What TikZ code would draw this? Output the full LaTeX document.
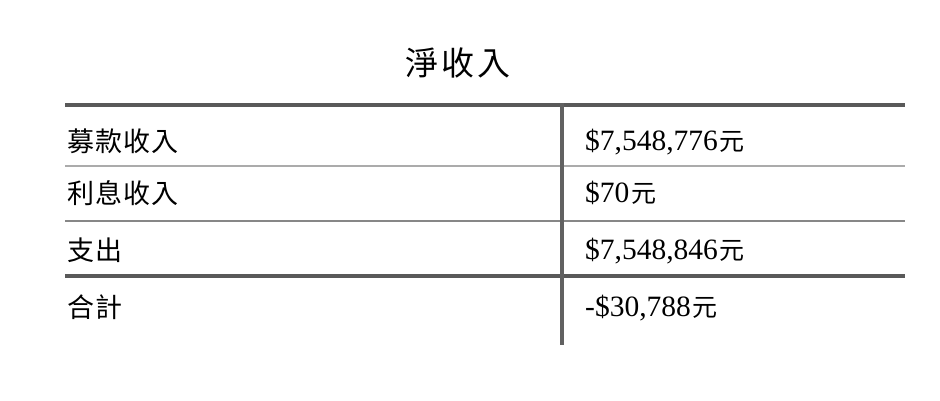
\documentclass[tikz,border=0pt]{standalone}
\usepackage{fontspec}
\setmainfont{Liberation Serif}
\newfontfamily\cjk{Noto Sans CJK TC}
\begin{document}
\begin{tikzpicture}[x=1pt,y=-1pt,
  lbl/.style={anchor=base west,inner sep=0pt,font=\cjk\fontsize{27}{32}\selectfont},
  val/.style={anchor=base west,inner sep=0pt,font=\fontsize{29.5}{34}\selectfont},
  thickrule/.style={line width=4pt,color=black!65},
  thinrule/.style={line width=2pt,color=black!33},
  midrule/.style={line width=2pt,color=black!47}]
\useasboundingbox (0,0) rectangle (940,400);
\node[anchor=base,inner sep=0pt,font=\cjk\fontsize{33}{38}\selectfont] (title) at (458,75) {淨\kern3pt 收\kern3pt 入};
\coordinate (tl) at (65,104.5);
\coordinate (tr) at (905,104.5);
\coordinate (r1l) at (65,165.5);
\coordinate (r1r) at (905,165.5);
\coordinate (r2l) at (65,220.5);
\coordinate (r2r) at (905,220.5);
\coordinate (r3l) at (65,276);
\coordinate (r3r) at (905,276);
\coordinate (vt) at (562,103);
\coordinate (vb) at (562,345);
\draw[thinrule] (r1l) -- (r1r);
\draw[midrule] (r2l) -- (r2r);
\draw[thickrule] (tl) -- (tr);
\draw[thickrule] (r3l) -- (r3r);
\draw[line width=3.5pt,color=black!62] (vt) -- (vb);
\node[lbl] (a1) at (67,151) {募\kern1pt 款\kern1pt 收\kern1pt 入};
\node[lbl] (a2) at (67,203) {利\kern1pt 息\kern1pt 收\kern1pt 入};
\node[lbl] (a3) at (67,260) {支\kern1pt 出};
\node[lbl] (a4) at (67,317) {合\kern1pt 計};
\node[val] (b1) at (585,150) {\$7,548,776\kern2pt{\cjk\fontsize{25}{30}\selectfont 元}};
\node[val] (b2) at (585,202) {\$70\kern2pt{\cjk\fontsize{25}{30}\selectfont 元}};
\node[val] (b3) at (585,259) {\$7,548,846\kern2pt{\cjk\fontsize{25}{30}\selectfont 元}};
\node[val] (b4) at (585,316) {-\$30,788\kern2pt{\cjk\fontsize{25}{30}\selectfont 元}};
\end{tikzpicture}
\end{document}
